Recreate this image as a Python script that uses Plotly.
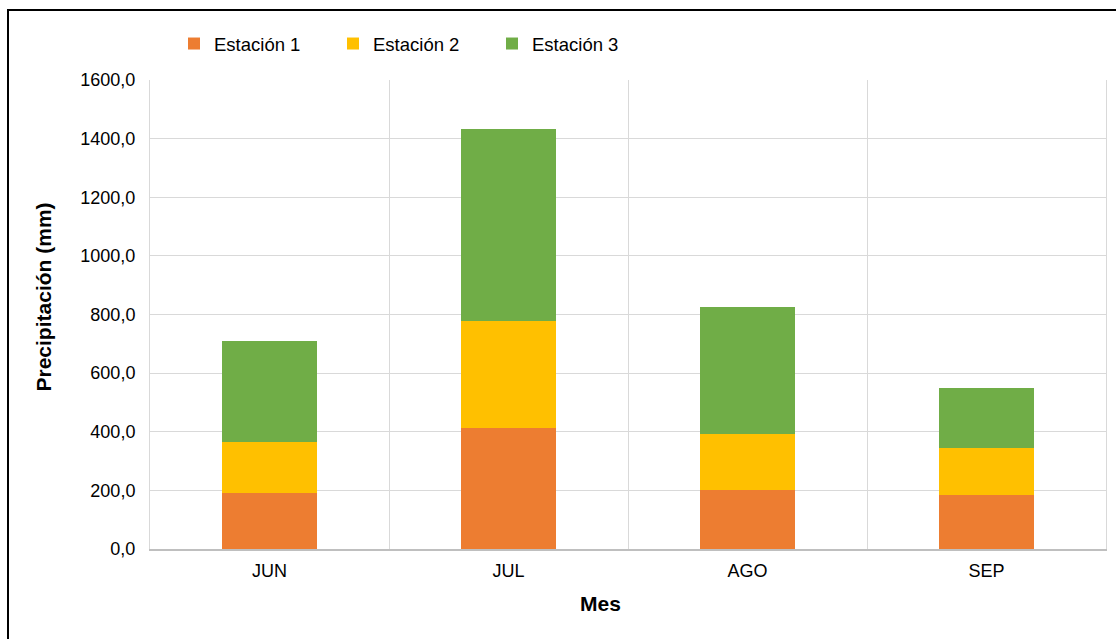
import plotly.graph_objects as go

months = ["JUN", "JUL", "AGO", "SEP"]
estacion1 = [191, 412, 203, 184]
estacion2 = [174, 367, 191, 160]
estacion3 = [345, 655, 430, 206]
series_names = ["Estación 1", "Estación 2", "Estación 3"]
colors = ["#ED7D31", "#FFC000", "#70AD47"]
y_ticks = [0, 200, 400, 600, 800, 1000, 1200, 1400, 1600]

W, H = 1116, 639
L, R, T, B = 150, 10, 80, 90
pw, ph = W - L - R, H - T - B

def px(x):
    return (x - L) / pw

def py(y):
    return (H - B - y) / ph

FONT = "Liberation Sans, Arial, sans-serif"

fig = go.Figure()
for name, vals, col in zip(series_names, [estacion1, estacion2, estacion3], colors):
    fig.add_trace(go.Bar(x=months, y=vals, name=name, marker=dict(color=col, line=dict(width=0))))

fig.update_layout(
    width=W, height=H,
    margin=dict(l=L, r=R, t=T, b=B),
    barmode="stack",
    bargap=0.6,
    plot_bgcolor="white",
    paper_bgcolor="white",
    separators=",.",
    font=dict(family=FONT, size=18, color="#000000"),
    legend=dict(orientation="h", x=px(174), y=py(44), xanchor="left", yanchor="middle",
                font=dict(size=18.5), entrywidth=114, entrywidthmode="pixels",
                itemwidth=30, traceorder="normal", bgcolor="rgba(0,0,0,0)"),
    xaxis=dict(type="category", tickson="boundaries", showgrid=True, gridcolor="#d9d9d9", gridwidth=1,
               showline=True, linecolor="#bfbfbf", linewidth=1.5, ticks="", ticklabelstandoff=5,
               tickfont=dict(size=18)),
    yaxis=dict(range=[0, 1600], tickvals=y_ticks, tickformat=".1f", showgrid=True, gridcolor="#d9d9d9",
               gridwidth=1, showline=True, linecolor="#d9d9d9", mirror=True, ticks="", ticklabelstandoff=10,
               zeroline=False, tickfont=dict(size=18)),
    annotations=[
        dict(text="<b>Precipitación (mm)</b>", textangle=-90, x=px(43), y=py(297.5), xref="paper", yref="paper",
             showarrow=False, xanchor="center", yanchor="middle", font=dict(size=21, family=FONT)),
        dict(text="<b>Mes</b>", x=px(600.7), y=py(603), xref="paper", yref="paper",
             showarrow=False, xanchor="center", yanchor="middle", font=dict(size=21, family=FONT)),
    ],
    shapes=[
        dict(type="rect", xref="paper", yref="paper", x0=px(8), x1=px(1125), y0=py(650), y1=py(10),
             line=dict(color="black", width=2), fillcolor="rgba(0,0,0,0)", layer="below"),
    ],
)

fig.write_html("out.html")
